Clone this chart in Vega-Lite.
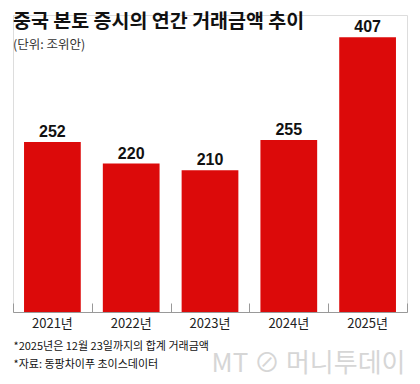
{
  "$schema": "https://vega.github.io/schema/vega-lite/v6.json",
  "width": 394,
  "height": 297,
  "autosize": {"type": "none"},
  "padding": {"left": 13, "top": 15, "right": 13, "bottom": 72},
  "background": "white",
  "title": {
    "text": "중국 본토 증시의 연간 거래금액 추이",
    "subtitle": "(단위: 조위안)",
    "anchor": "start",
    "frame": "group",
    "font": "Noto Sans CJK KR",
    "fontSize": 19.5,
    "fontWeight": "bold",
    "color": "#111111",
    "subtitleFont": "Noto Sans CJK KR",
    "subtitleFontSize": 12.5,
    "subtitleColor": "#333333",
    "subtitlePadding": 6,
    "offset": 0,
    "dy": 37
  },
  "data": {
    "values": [
      {"year": "2021년", "value": 252},
      {"year": "2022년", "value": 220},
      {"year": "2023년", "value": 210},
      {"year": "2024년", "value": 255},
      {"year": "2025년", "value": 407}
    ]
  },
  "encoding": {
    "y": {
      "field": "value",
      "type": "quantitative",
      "scale": {"domain": [0, 440], "nice": false},
      "axis": {
        "orient": "right",
        "labels": false,
        "ticks": false,
        "domain": false,
        "grid": false,
        "title": "MT ⊘ 머니투데이",
        "titleAngle": 0,
        "titleAlign": "right",
        "titleBaseline": "alphabetic",
        "titleX": -2,
        "titleY": 356,
        "titleFont": "Noto Sans CJK KR",
        "titleFontSize": 26,
        "titleFontWeight": "normal",
        "titleColor": "#d6d6d6"
      }
    }
  },
  "layer": [
    {
      "mark": {"type": "bar", "color": "#dc0a0a", "width": {"band": 0.72}},
      "encoding": {
        "x": {
          "field": "year",
          "type": "nominal",
          "sort": null,
          "scale": {"paddingInner": 0, "paddingOuter": 0},
          "axis": {
            "title": ["*2025년은 12월 23일까지의 합계 거래금액", "*자료: 동팡차이푸 초이스데이터"],
            "titleFont": "Noto Sans CJK KR",
            "titleFontSize": 11,
            "titleFontWeight": "normal",
            "titleColor": "#111111",
            "titleAlign": "left",
            "titleAnchor": "start",
            "titleBaseline": "alphabetic",
            "titleX": 0,
            "titleY": 37,
            "titleLineHeight": 18,
            "labelAngle": 0,
            "labelFont": "Noto Sans CJK KR",
            "labelFontSize": 13,
            "labelColor": "#222222",
            "labelPadding": 5,
            "labelBaseline": "top",
            "ticks": false,
            "domainColor": "#999999",
            "grid": false
          }
        }
      }
    },
    {
      "mark": {
        "type": "text",
        "dy": -5,
        "baseline": "alphabetic",
        "font": "Liberation Sans Narrow, Liberation Sans",
        "fontSize": 16,
        "fontWeight": "bold",
        "color": "#111111"
      },
      "encoding": {
        "x": {
          "field": "year",
          "type": "nominal",
          "sort": null,
          "axis": {
            "orient": "top",
            "offset": -297,
            "labels": false,
            "domain": false,
            "title": null,
            "grid": false,
            "ticks": true,
            "tickBand": "extent",
            "tickSize": 9,
            "tickWidth": 1,
            "tickColor": "#999999",
            "tickOpacity": 1
          }
        },
        "text": {"field": "value", "type": "quantitative"}
      }
    }
  ],
  "resolve": {"axis": {"x": "independent"}}
}
